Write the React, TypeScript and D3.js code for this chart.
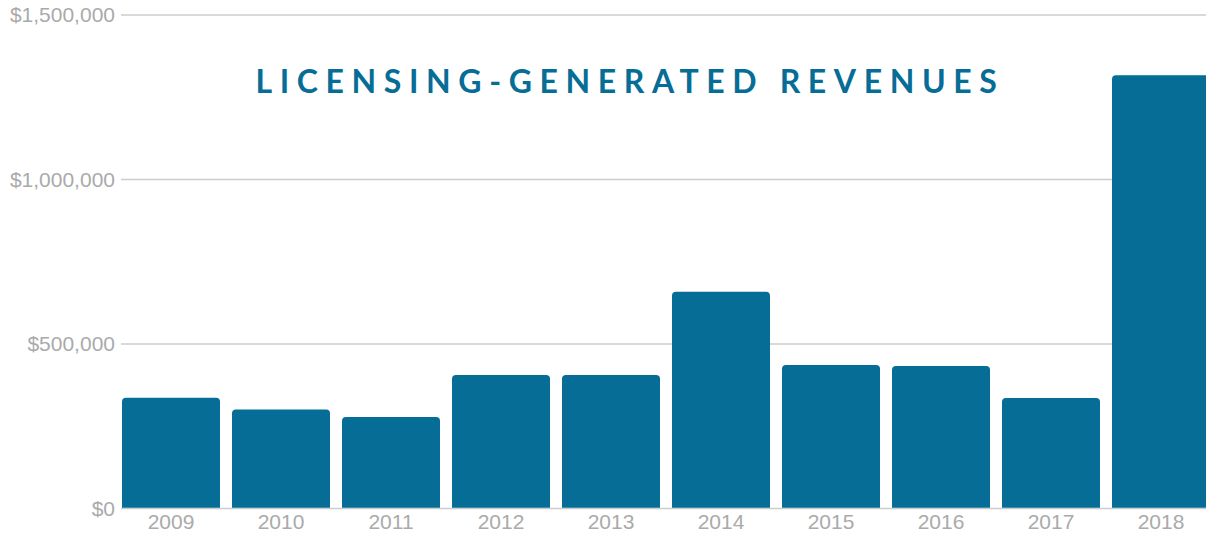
import React from "react";
import * as d3 from "d3";

const years = ["2009", "2010", "2011", "2012", "2013", "2014", "2015", "2016", "2017", "2018"];
const revenues = [337000, 301000, 278000, 406000, 406000, 659000, 436000, 433000, 336000, 1317000];
const yTicks = [0, 500000, 1000000, 1500000];
const title = "LICENSING-GENERATED REVENUES";

const W = 1206;
const H = 535;

function topRoundedRect(x: number, y: number, w: number, h: number, r: number) {
  const rr = Math.min(r, h, w / 2);
  return `M${x},${y + h}V${y + rr}Q${x},${y} ${x + rr},${y}H${x + w - rr}Q${x + w},${y} ${x + w},${y + rr}V${y + h}Z`;
}

export default function App() {
  const x = d3.scaleBand<string>().domain(years).range([116, 1216]).paddingInner(0.109).paddingOuter(0.0545);
  const y = d3.scaleLinear().domain([0, 1500000]).range([508.5, 15]);
  const fmt = (v: number) => "$" + d3.format(",")(v);
  return (
    <svg width={W} height={H} style={{ position: "absolute", left: 0, top: 0, background: "#fff" }}>
      {yTicks.map((t) => (
        <g key={t}>
          <line x1={121} x2={W} y1={y(t)} y2={y(t)} stroke="#cccccc" strokeWidth={1.6} />
          <text x={115} y={y(t)} dy="0.35em" textAnchor="end" fontFamily="Liberation Sans, Arial, sans-serif" fontSize={21} fill="#aaaaaa">
            {fmt(t)}
          </text>
        </g>
      ))}
      {years.map((yr, i) => (
        <path key={yr} d={topRoundedRect(x(yr)!, y(revenues[i]), x.bandwidth(), y(0) - y(revenues[i]) - 0.8, 4)} fill="#066d96" />
      ))}
      {years.map((yr) => (
        <text key={yr} x={x(yr)! + x.bandwidth() / 2} y={522} dy="0.35em" textAnchor="middle" fontFamily="Liberation Sans, Arial, sans-serif" fontSize={21} fill="#aaaaaa">
          {yr}
        </text>
      ))}
      <text x={630} y={82} dy="0.35em" textAnchor="middle" fontFamily="Lato, Open Sans, sans-serif" fontWeight={700} fontSize={32} letterSpacing={7.6} fill="#066d96">
        {title}
      </text>
    </svg>
  );
}
